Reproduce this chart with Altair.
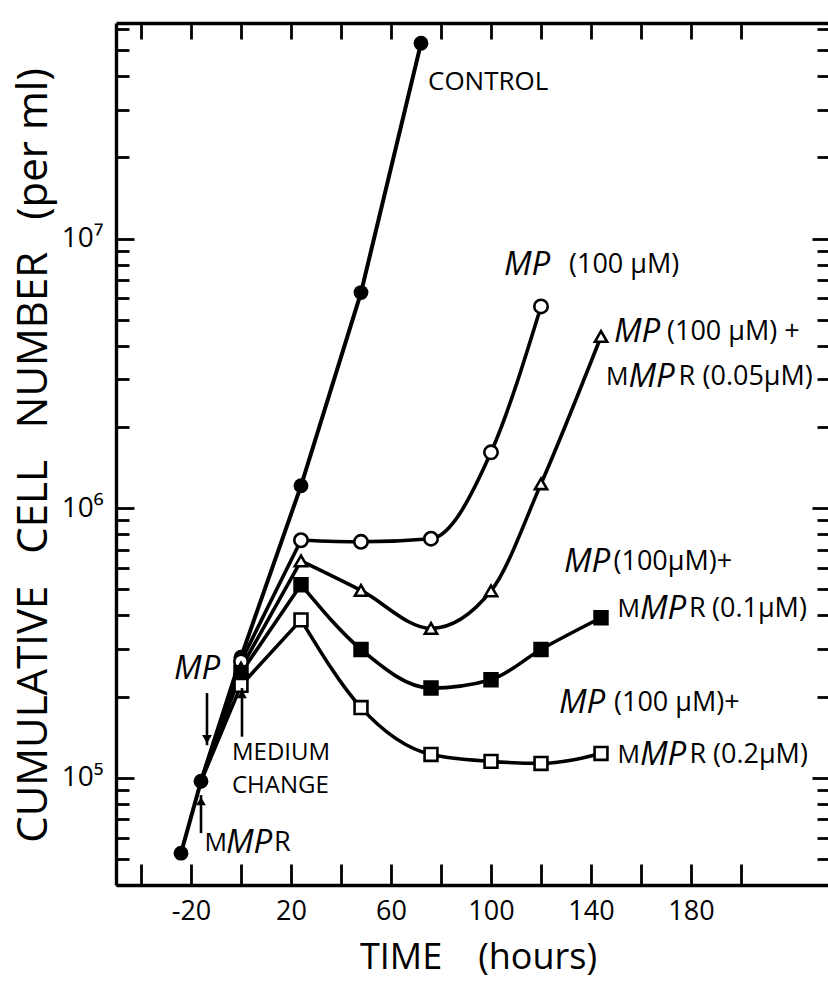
import altair as alt
import pandas as pd

FONT = "Open Sans"
W, H = 712, 862

# ---- growth data (hours, cumulative cells per ml) ----
control_hours = [-24, -16, 0, 24, 48, 72]
control_cells = [5.25e4, 9.7e4, 2.8e5, 1.21e6, 6.3e6, 5.3e7]

# treated cultures branch off the control culture when MMPR is added
branch_hours = -16
branch_cells = 9.7e4

treat_hours = [0, 24, 48, 76, 100, 120, 144]
mp_100 = [2.7e5, 7.6e5, 7.5e5, 7.7e5, 1.61e6, 5.6e6]
mp_mmpr_005 = [2.55e5, 6.37e5, 4.95e5, 3.58e5, 4.93e5, 1.23e6, 4.33e6]
mp_mmpr_01 = [2.45e5, 5.2e5, 2.99e5, 2.15e5, 2.31e5, 2.99e5, 3.92e5]
mp_mmpr_02 = [2.2e5, 3.85e5, 1.82e5, 1.22e5, 1.15e5, 1.13e5, 1.23e5]

series = {
    "mp": mp_100,
    "mmpr005": mp_mmpr_005,
    "mmpr01": mp_mmpr_01,
    "mmpr02": mp_mmpr_02,
}

# ---- axis ticks ----
hour_ticks = [-40, -20, 0, 20, 40, 60, 80, 100, 120, 140, 160, 180, 200]
hour_labels = [-20, 20, 60, 100, 140, 180]
decades = [1e5, 1e6, 1e7]
cell_ticks = [m * 10.0 ** e for e in range(4, 8) for m in range(1, 10)
              if 4e4 <= m * 10.0 ** e <= 6.3e7]

# ---- annotation pieces: text, hours, cells, font size ----
ann_text = ["CONTROL",
            "MP", "(100 \u03bcM)",
            "MP", "(100 \u03bcM) +", "M", "MP", "R", "(0.05\u03bcM)",
            "MP", "(100\u03bcM)+", "M", "MP", "R", "(0.1\u03bcM)",
            "MP", "(100 \u03bcM)+", "M", "MP", "R", "(0.2\u03bcM)",
            "MP", "MEDIUM", "CHANGE", "M", "MP", "R"]
ann_hours = [74.8,
             105.2, 131.2,
             149.2, 170.4, 146.0, 155.0, 175.0, 184.6,
             129.2, 149.0, 150.6, 159.6, 179.2, 188.4,
             127.2, 149.2, 150.6, 159.6, 179.4, 188.8,
             -26.8, -3.6, -3.6, -14.6, -6.0, 13.2]
ann_cells = [3.81e7,
             7.97e6, 7.97e6,
             4.51e6, 4.51e6, 3.07e6, 3.07e6, 3.07e6, 3.07e6,
             6.32e5, 6.32e5, 4.22e5, 4.22e5, 4.22e5, 4.22e5,
             1.89e5, 1.89e5, 1.213e5, 1.213e5, 1.213e5, 1.213e5,
             2.53e5, 1.23e5, 9.3e4, 5.72e4, 5.72e4, 5.72e4]
ann_italic = [t == "MP" for t in ann_text]
ann_size = [26 if t == "CONTROL" else
            24 if t in ("MEDIUM", "CHANGE") else
            33 if t == "MP" else
            25 if t == "M" else 27 for t in ann_text]

# ---- arrows: hours, tail, tip ----
arrow_hours = [-16, -13.6, 0.4]
arrow_tail = [6.23e4, 2.06e5, 1.42e5]
arrow_tip = [8.62e4, 1.32e5, 2.15e5]

# ---- tables ----
control_df = pd.DataFrame({"hours": control_hours, "cells": control_cells})

early_rows, late_rows, point_rows = [], [], []
for name, vals in series.items():
    early_rows.append({"series": name, "hours": branch_hours, "cells": branch_cells})
    for h, v in list(zip(treat_hours, vals))[:2]:
        early_rows.append({"series": name, "hours": h, "cells": v})
    for h, v in list(zip(treat_hours, vals))[1:]:
        late_rows.append({"series": name, "hours": h, "cells": v})
    for h, v in zip(treat_hours, vals):
        point_rows.append({"series": name, "hours": h, "cells": v})
early_df = pd.DataFrame(early_rows)
late_df = pd.DataFrame(late_rows)
points_df = pd.DataFrame(point_rows)

ann_df = pd.DataFrame({"text": ann_text, "hours": ann_hours, "cells": ann_cells,
                       "italic": ann_italic, "fs": ann_size})
arrow_df = pd.DataFrame({"hours": arrow_hours, "tail": arrow_tail, "tip": arrow_tip})
arrow_df["up"] = arrow_df["tip"] > arrow_df["tail"]

# ---- scales and axes ----
x_scale = alt.Scale(domain=[-50, 234.8], nice=False, zero=False)
y_scale = alt.Scale(type="log", domain=[4e4, 6.3e7], nice=False)

frame = dict(grid=False, tickColor="black", tickWidth=2.8, domainColor="black",
             domainWidth=3.4, labels=False, title=None)
major = "datum.value === 100000 || datum.value === 1000000 || datum.value === 10000000"

x_label_axis = alt.Axis(
    orient="bottom", values=hour_labels, ticks=False, tickSize=0, domain=False, grid=False,
    labelExpr="datum.value < 0 ? '-' + abs(datum.value) : '' + datum.value",
    labelFont=FONT, labelFontSize=27, labelPadding=13, labelColor="black",
    title="TIME\u2003(hours)", titleFont=FONT, titleFontSize=36, titleFontWeight="normal",
    titleColor="black", titleX=362, titleY=72, titleAlign="center", titleBaseline="middle")
x_bottom_ticks = alt.Axis(orient="top", offset=-H, values=hour_ticks, tickSize=21,
                          domain=True, **frame)
x_top_ticks = alt.Axis(orient="bottom", offset=-H, values=hour_ticks, tickSize=16,
                       domain=True, **frame)

y_label_axis = alt.Axis(
    orient="left", values=decades, ticks=False, tickSize=0, domain=False, grid=False,
    labelExpr="datum.value === 100000 ? '10\u2075' : datum.value === 1000000 ? '10\u2076' : '10\u2077'",
    labelFont=FONT, labelFontSize=28, labelPadding=13, labelColor="black",
    title="CUMULATIVE\u2002 CELL\u2002 NUMBER\u2002 (per ml)", titleFont=FONT,
    titleFontSize=42, titleFontWeight="normal", titleColor="black",
    titleX=-83, titleY=H / 2 + 1, titleAngle=270, titleAlign="center", titleBaseline="middle")
y_left_ticks = alt.Axis(orient="right", offset=-W, values=cell_ticks,
                        tickSize={"condition": {"test": major, "value": 18}, "value": 13},
                        domain=True, **frame)
y_right_ticks = alt.Axis(orient="left", offset=-W, values=cell_ticks,
                         tickSize={"condition": {"test": major, "value": 16}, "value": 11},
                         domain=False, **frame)


def xy(x_axis=None, y_axis=None, y_field="cells"):
    return dict(
        x=alt.X("hours:Q", scale=x_scale, axis=x_axis),
        y=alt.Y(f"{y_field}:Q", scale=y_scale, axis=y_axis),
    )


# ---- lines ----
control_line = alt.Chart(control_df).mark_line(
    color="black", strokeWidth=4, interpolate="linear"
).encode(**xy(x_label_axis, y_label_axis))

early_lines = alt.Chart(early_df).mark_line(
    color="black", strokeWidth=3.6, interpolate="linear"
).encode(**xy(x_bottom_ticks, y_left_ticks), detail="series:N")

late_lines = alt.Chart(late_df).mark_line(
    color="black", strokeWidth=3.6, interpolate="monotone"
).encode(**xy(x_top_ticks, y_right_ticks), detail="series:N")

# ---- markers ----
control_pts = alt.Chart(control_df).mark_point(
    shape="circle", filled=True, color="black", size=220, opacity=1
).encode(**xy())


def markers(name, shape, fill, size):
    return alt.Chart(points_df).transform_filter(alt.datum.series == name).mark_point(
        shape=shape, fill=fill, stroke="black", strokeWidth=2.6, size=size,
        opacity=1, fillOpacity=1, strokeOpacity=1
    ).encode(**xy())


mp_pts = markers("mp", "circle", "white", 180)
tri_pts = markers("mmpr005", "triangle-up", "white", 150)
fsq_pts = markers("mmpr01", "square", "black", 165)
osq_pts = markers("mmpr02", "square", "white", 165)

# ---- arrows ----
shafts = alt.Chart(arrow_df).mark_rule(color="black", strokeWidth=2.6).encode(
    x=alt.X("hours:Q", scale=x_scale, axis=None),
    y=alt.Y("tail:Q", scale=y_scale, axis=None),
    y2="tip:Q",
)
heads_up = alt.Chart(arrow_df).transform_filter("datum.up").mark_point(
    shape="triangle-up", filled=True, color="black", size=95, opacity=1, yOffset=6
).encode(**xy(y_field="tip"))
heads_down = alt.Chart(arrow_df).transform_filter("!datum.up").mark_point(
    shape="triangle-down", filled=True, color="black", size=95, opacity=1, yOffset=-6
).encode(**xy(y_field="tip"))

# ---- labels ----
text_upright = alt.Chart(ann_df).transform_filter("!datum.italic").mark_text(
    font=FONT, align="left", baseline="middle", color="black"
).encode(**xy(), text="text:N", size=alt.Size("fs:Q", scale=None))
text_italic = alt.Chart(ann_df).transform_filter("datum.italic").mark_text(
    font=FONT, fontStyle="italic", align="left", baseline="middle", color="black"
).encode(**xy(), text="text:N", size=alt.Size("fs:Q", scale=None))

chart = alt.layer(
    control_line, early_lines, late_lines,
    control_pts, mp_pts, tri_pts, fsq_pts, osq_pts,
    shafts, heads_up, heads_down,
    text_upright, text_italic,
).resolve_axis(
    x="independent", y="independent"
).properties(
    width=W, height=H,
    padding={"left": 116, "top": 23, "right": 0, "bottom": 103},
    autosize=alt.AutoSizeParams(type="none"),
    background="white",
).configure_view(stroke=None)

chart.save("out.html", embed_options={"renderer": "svg", "actions": False})
